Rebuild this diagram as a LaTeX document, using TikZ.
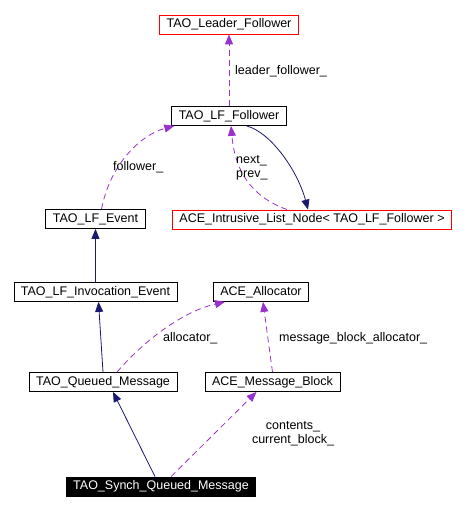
\documentclass[tikz,border=0pt]{standalone}
\usepackage{fontspec}
\setmainfont{Liberation Sans}
\usetikzlibrary{arrows.meta}
\definecolor{depcol}{RGB}{153,50,204}
\definecolor{inhcol}{RGB}{25,25,112}

\begin{document}
\begin{tikzpicture}[x=1pt,y=-1pt,
    font=\fontsize{12.5}{14}\selectfont,
    >={Triangle[length=10pt,width=8pt]},
    cls/.style={draw,line width=0.8pt,inner xsep=7pt,inner ysep=0pt,minimum height=19pt},
    extcls/.style={cls,draw=red},
    mainc/.style={cls,fill=black,text=white},
    inh/.style={->,inhcol,line width=0.8pt},
    dep/.style={->,depcol,line width=0.8pt,dash pattern=on 6pt off 4pt},
    lbl/.style={anchor=west,inner sep=0pt,align=left}]
    \useasboundingbox (0,0) rectangle (466,510);

    % classes
    \node[extcls] (lead) at (229,24.5) {TAO\_Leader\_Follower};
    \node[cls] (fol) at (229,116) {TAO\_LF\_Follower};
    \node[extcls] (intr) at (312,219.5) {ACE\_Intrusive\_List\_Node< TAO\_LF\_Follower >};
    \node[cls] (evt) at (95.5,219) {TAO\_LF\_Event};
    \node[cls] (inv) at (95.5,292) {TAO\_LF\_Invocation\_Event};
    \node[cls] (alloc) at (261,292) {ACE\_Allocator};
    \node[cls] (qm) at (103,382) {TAO\_Queued\_Message};
    \node[cls] (mb) at (272.5,382) {ACE\_Message\_Block};
    \node[mainc] (synch) at (161,486.5) {TAO\_Synch\_Queued\_Message};

    % inheritance
    \draw[inh] ([xshift=-40pt]fol.south east) .. controls (272,133) and (298,172) .. ([xshift=-4pt]intr.north);
    \draw[inh] (inv) -- (evt);
    \draw[inh] (qm.north) -- ([xshift=3pt]inv.south);
    \draw[inh] ([xshift=-6pt]synch.north) -- ([xshift=10pt]qm.south);

    % usage
    \draw[dep] (fol) -- (lead);
    \node[lbl] (lfl) at (235,71) {leader\_follower\_};

    \draw[dep] ([xshift=6pt]evt.north) .. controls (110,165) and (140,135) .. ([xshift=3pt]fol.south west);
    \node[lbl] (fl) at (113,167) {follower\_};

    \draw[dep] ([xshift=-25pt]intr.north) .. controls (250,196) and (235,170) .. ([xshift=2pt]fol.south);
    \node[lbl] (npl) at (236,168) {next\_\\prev\_};

    \draw[dep] ([xshift=14pt]qm.north) .. controls (140,345) and (180,312) .. ([xshift=-36pt]alloc.south);
    \node[lbl] (al) at (163,338) {allocator\_};

    \draw[dep] (mb.north) -- ([xshift=2pt]alloc.south);
    \node[lbl] (mba) at (279,338) {message\_block\_allocator\_};

    \draw[dep] ([xshift=10pt]synch.north) -- ([xshift=-16pt]mb.south);
    \node[align=center,inner sep=0pt] (cb) at (293,434) {contents\_\\current\_block\_};
\end{tikzpicture}
\end{document}
